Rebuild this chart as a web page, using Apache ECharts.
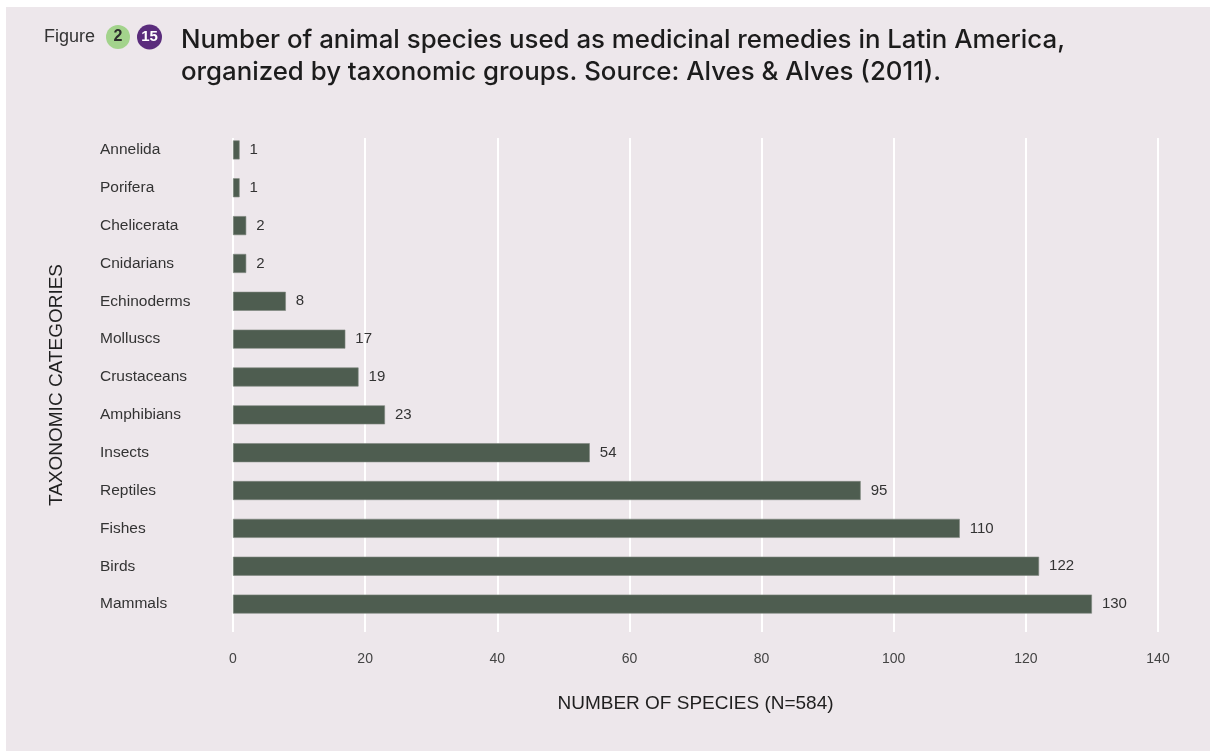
<!DOCTYPE html>
<html>
<head>
<meta charset="utf-8">
<title>Animal species used as medicinal remedies in Latin America</title>
<script src="https://cdn.jsdelivr.net/npm/echarts@6/dist/echarts.min.js"></script>
<style>
  html, body { margin: 0; padding: 0; background: #ffffff; }
  #chart { position: absolute; left: 6px; top: 7px; width: 1204px; height: 744px; background: #ede7eb; }
</style>
</head>
<body>
<div id="chart"></div>
<script>
// Taxonomic groups, listed top to bottom
const categories = [
  'Annelida', 'Porifera', 'Chelicerata', 'Cnidarians', 'Echinoderms',
  'Molluscs', 'Crustaceans', 'Amphibians', 'Insects', 'Reptiles',
  'Fishes', 'Birds', 'Mammals'
];
// Number of species per group (total N = 584)
const speciesCounts = [1, 1, 2, 2, 8, 17, 19, 23, 54, 95, 110, 122, 130];
// Horizontal axis ticks
const xTicks = [0, 20, 40, 60, 80, 100, 120, 140];

const FONT = '"Liberation Sans", Arial, Helvetica, sans-serif';
const TITLE_FONT = 'Inter, "Liberation Sans", Arial, sans-serif';
const OX = 6, OY = 7; // chart box offset inside the page

const chart = echarts.init(document.getElementById('chart'), null, { renderer: 'canvas' });

const xMin = xTicks[0], xMax = xTicks[xTicks.length - 1], xStep = xTicks[1] - xTicks[0];

chart.setOption({
  backgroundColor: '#ede7eb',
  animation: false,
  textStyle: { fontFamily: FONT },
  title: {
    text: 'Number of animal species used as medicinal remedies in Latin America,\norganized by taxonomic groups. Source: Alves & Alves (2011).',
    left: 181 - OX,
    top: 24 - OY,
    padding: 0,
    textStyle: {
      fontFamily: TITLE_FONT,
      fontSize: 25.8,
      fontWeight: 500,
      color: '#1c1c1c',
      lineHeight: 32
    }
  },
  graphic: [
    {
      type: 'text', x: 44 - OX, y: 37 - OY,
      style: { text: 'Figure', font: '18px ' + FONT, fill: '#333333', verticalAlign: 'middle' }
    },
    {
      type: 'circle', shape: { cx: 118 - OX, cy: 37 - OY, r: 12 },
      style: { fill: '#a3d38c' }
    },
    {
      type: 'text', x: 118 - OX, y: 37 - OY,
      style: { text: '2', font: 'bold 16px ' + FONT, fill: '#2c2c2c', align: 'center', verticalAlign: 'middle' }
    },
    {
      type: 'circle', shape: { cx: 149.5 - OX, cy: 37 - OY, r: 12.5 },
      style: { fill: '#5a2c7c' }
    },
    {
      type: 'text', x: 149.5 - OX, y: 37 - OY,
      style: { text: '15', font: 'bold 15px ' + FONT, fill: '#ffffff', align: 'center', verticalAlign: 'middle' }
    }
  ],
  grid: [
    // grid carrying the vertical white gridlines, tick labels and axis titles
    { left: 233 - OX, right: 52, top: 138 - OY, bottom: 751 - 632 },
    // grid carrying the bars
    { left: 233 - OX, right: 52, top: 131 - OY, height: 492 }
  ],
  xAxis: [
    {
      gridIndex: 0, type: 'value', min: xMin, max: xMax, interval: xStep,
      axisLine: { show: false }, axisTick: { show: false },
      splitLine: { show: true, lineStyle: { color: '#ffffff', width: 2 } },
      axisLabel: { color: '#444444', fontSize: 14, margin: 20, fontFamily: FONT },
      name: 'NUMBER OF SPECIES (N=584)',
      nameLocation: 'middle',
      nameGap: 62,
      nameTextStyle: { color: '#1f1f1f', fontSize: 19, fontFamily: FONT }
    },
    {
      gridIndex: 1, type: 'value', min: xMin, max: xMax, interval: xStep,
      show: false, splitLine: { show: false }
    }
  ],
  yAxis: [
    {
      gridIndex: 0, type: 'value', min: 0, max: 1,
      axisLine: { show: false }, axisTick: { show: false },
      axisLabel: { show: false }, splitLine: { show: false },
      name: 'TAXONOMIC CATEGORIES',
      nameLocation: 'middle',
      nameRotate: 90,
      nameGap: 167,
      nameTextStyle: { color: '#1f1f1f', fontSize: 19, fontFamily: FONT }
    },
    {
      gridIndex: 1, type: 'category', data: categories, inverse: true,
      axisLine: { show: false }, axisTick: { show: false },
      splitLine: { show: false },
      axisLabel: {
        color: '#333333', fontSize: 15.5, fontFamily: FONT,
        align: 'left', margin: 133
      }
    }
  ],
  series: [
    {
      type: 'bar',
      xAxisIndex: 1,
      yAxisIndex: 1,
      data: speciesCounts,
      barWidth: 19,
      itemStyle: { color: '#4e5d50', borderColor: '#7d877e', borderWidth: 0.6 },
      label: {
        show: true,
        position: 'right',
        distance: 10,
        color: '#333333',
        fontSize: 15,
        fontFamily: FONT
      }
    }
  ]
});
</script>
</body>
</html>
